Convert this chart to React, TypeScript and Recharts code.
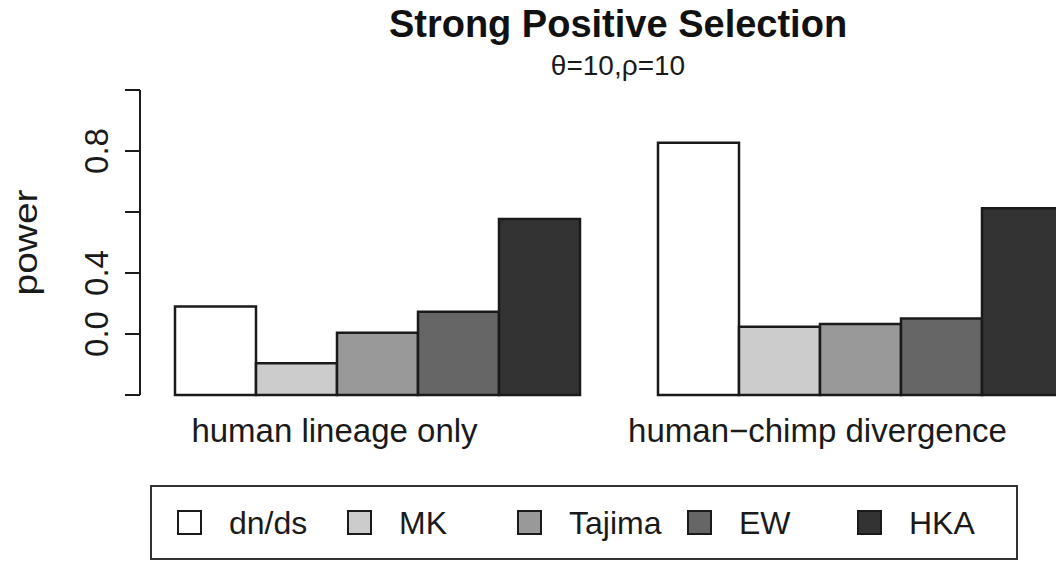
import { Bar, BarChart, Legend, XAxis, YAxis } from 'recharts';

const groups = ['human lineage only', 'human\u2212chimp divergence'];
const dnds = [0.29, 0.827];
const mk = [0.104, 0.224];
const tajima = [0.204, 0.233];
const ew = [0.273, 0.251];
const hka = [0.577, 0.612];

const seriesOrder = ['dn/ds', 'MK', 'Tajima', 'EW', 'HKA'];

const yTicks = [0, 0.2, 0.4, 0.6, 0.8, 1];
// labels as they sit in the source figure (R dropped the crowded ones)
const yTickText = ['', '0.0', '0.4', '', '0.8', ''];

const data = groups.map((group, i) => ({
  group,
  dnds: dnds[i],
  mk: mk[i],
  tajima: tajima[i],
  ew: ew[i],
  hka: hka[i],
}));

const FONT = '"Liberation Sans", Arial, Helvetica, sans-serif';
const INK = '#1a1a1a';

function GroupTick({ x, y, payload }: any) {
  return (
    <text x={x - 42} y={y + 47} textAnchor="middle" fontFamily={FONT} fontSize={33} fill={INK}>
      {payload.value}
    </text>
  );
}

function PowerTick({ x, y, index }: any) {
  const label = yTickText[index] ?? '';
  if (!label) return null;
  return (
    <text
      transform={`translate(${x - 17}, ${y}) rotate(-90)`}
      textAnchor="middle"
      fontFamily={FONT}
      fontSize={33}
      fill={INK}
    >
      {label}
    </text>
  );
}

function LegendBox({ payload }: any) {
  const items = [...(payload || [])].sort(
    (a: any, b: any) => seriesOrder.indexOf(a.value) - seriesOrder.indexOf(b.value)
  );
  return (
    <div
      style={{
        boxSizing: 'border-box',
        width: 868,
        height: 75,
        border: '2px solid #333',
        display: 'flex',
        alignItems: 'center',
        paddingLeft: 25,
        fontFamily: FONT,
        fontSize: 32,
        color: INK,
      }}
    >
      {items.map((p: any) => (
        <div key={p.value} style={{ width: 170, flex: 'none', display: 'flex', alignItems: 'center' }}>
          <span
            style={{
              width: 25,
              height: 25,
              boxSizing: 'border-box',
              border: `2.5px solid ${INK}`,
              background: p.color,
              marginRight: 27,
              flex: 'none',
            }}
          />
          <span style={{ lineHeight: 1, whiteSpace: 'nowrap' }}>{p.value}</span>
        </div>
      ))}
    </div>
  );
}

export default function App() {
  return (
    <div style={{ position: 'absolute', left: 0, top: 0, width: 1056, height: 563, overflow: 'hidden', background: '#fff' }}>
      <BarChart
        width={1101}
        height={563}
        data={data}
        margin={{ top: 90, right: 0, bottom: 108, left: 0 }}
        barGap={0}
        barCategoryGap={40}
      >
        <XAxis
          dataKey="group"
          height={60}
          axisLine={false}
          tickLine={false}
          tickSize={0}
          tickMargin={0}
          padding={{ left: -5, right: 0 }}
          interval={0}
          tick={<GroupTick />}
        />
        <YAxis
          width={140}
          domain={[0, 1]}
          ticks={yTicks}
          interval={0}
          tickSize={15}
          tickMargin={0}
          axisLine={{ stroke: INK, strokeWidth: 2 }}
          tickLine={{ stroke: INK, strokeWidth: 2 }}
          tick={<PowerTick />}
          label={{
            content: ({ viewBox }: any) => (
              <text
                transform={`translate(37, ${viewBox.y + viewBox.height / 2}) rotate(-90) scale(1.18, 1)`}
                textAnchor="middle"
                fontFamily={FONT}
                fontSize={33}
                fill={INK}
              >
                power
              </text>
            ),
          }}
        />
        <Legend
          layout="vertical"
          align="center"
          verticalAlign="middle"
          itemSorter={null as any}
          content={<LegendBox />}
          wrapperStyle={{ left: 150, top: 485, width: 868, height: 75 }}
        />
        <Bar dataKey="dnds" name="dn/ds" fill="#ffffff" stroke={INK} strokeWidth={2.5} isAnimationActive={false} />
        <Bar dataKey="mk" name="MK" fill="#cccccc" stroke={INK} strokeWidth={2.5} isAnimationActive={false} />
        <Bar dataKey="tajima" name="Tajima" fill="#999999" stroke={INK} strokeWidth={2.5} isAnimationActive={false} />
        <Bar dataKey="ew" name="EW" fill="#666666" stroke={INK} strokeWidth={2.5} isAnimationActive={false} />
        <Bar dataKey="hka" name="HKA" fill="#333333" stroke={INK} strokeWidth={2.5} isAnimationActive={false} />
      </BarChart>
      <svg
        width={1056}
        height={90}
        style={{ position: 'absolute', left: 0, top: 0, pointerEvents: 'none' }}
      >
        <text x={618} y={37} textAnchor="middle" fontFamily={FONT} fontSize={38} fontWeight="bold" fill="#111">
          Strong Positive Selection
        </text>
        <text x={618} y={75} textAnchor="middle" fontFamily={FONT} fontSize={28} fill={INK}>
          θ=10,ρ=10
        </text>
      </svg>
    </div>
  );
}
